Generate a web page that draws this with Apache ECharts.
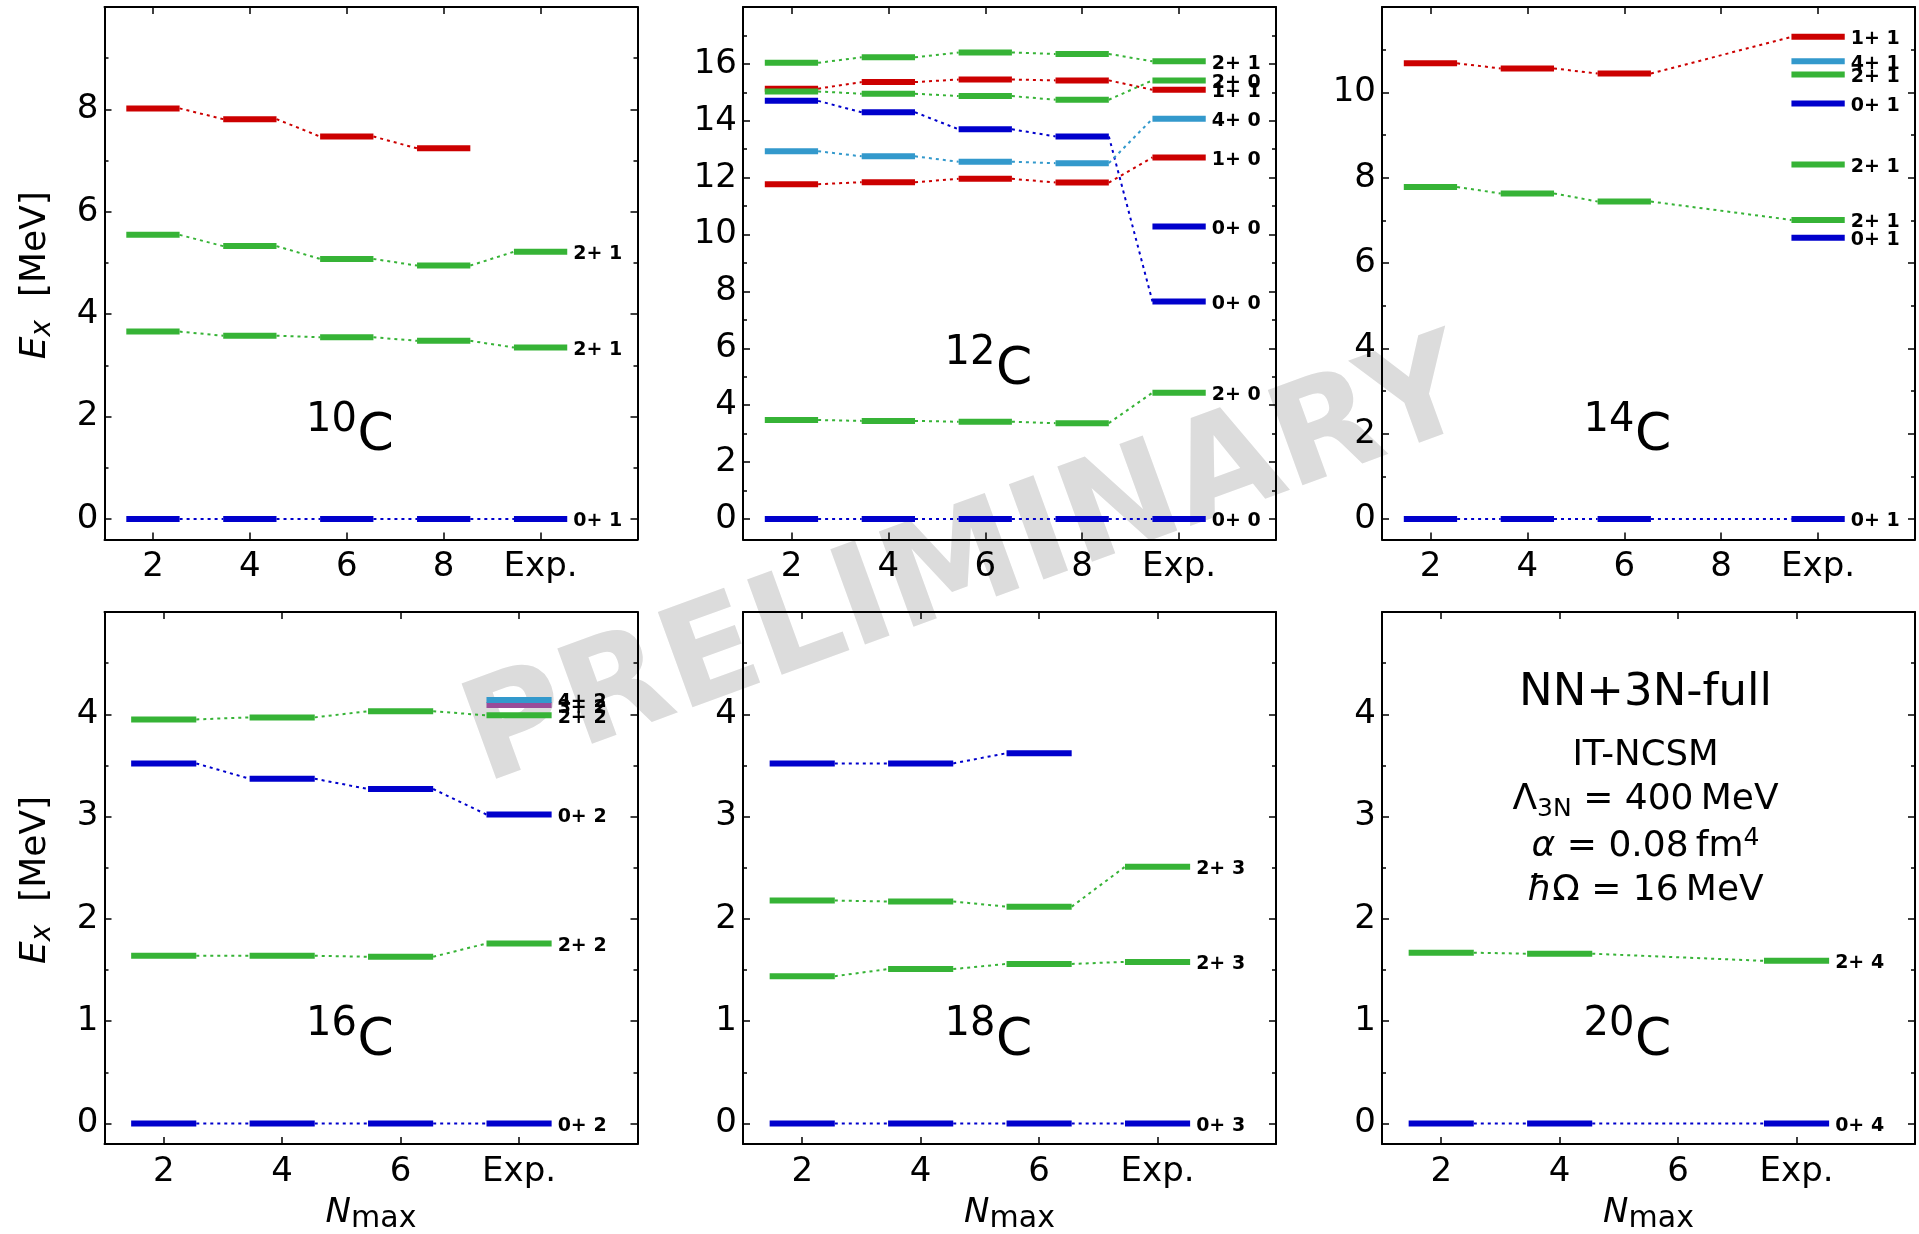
<!DOCTYPE html>
<html><head><meta charset="utf-8">
<script src="https://cdn.jsdelivr.net/npm/echarts@6/dist/echarts.min.js"></script>
<style>html,body{margin:0;padding:0;background:#fff}#c{width:1919px;height:1234px}</style>
</head><body><div id="c"></div>
<script>
// ---------------- data ----------------
// x positions: Nmax values; the last one is the experiment column
const nmaxTop = [2, 4, 6, 8, 10];
const nmaxBot = [2, 4, 6, 8];
const xLabelsTop = ['2', '4', '6', '8', 'Exp.'];
const xLabelsBot = ['2', '4', '6', 'Exp.'];

const yMajor10 = [0, 2, 4, 6, 8];           const yMinor10 = [1, 3, 5, 7, 9];
const yMajor12 = [0, 2, 4, 6, 8, 10, 12, 14, 16]; const yMinor12 = [1, 3, 5, 7, 9, 11, 13, 15, 17];
const yMajor14 = [0, 2, 4, 6, 8, 10];       const yMinor14 = [1, 3, 5, 7, 9, 11];
const yMajorB  = [0, 1, 2, 3, 4];           const yMinorB  = [0.5, 1.5, 2.5, 3.5, 4.5];

// 10C
const c10_0p  = [0, 0, 0, 0, 0];
const c10_2pA = [3.66, 3.58, 3.55, 3.48, 3.35];
const c10_2pB = [5.55, 5.33, 5.08, 4.95, 5.22];
const c10_red = [8.02, 7.81, 7.47, 7.24, null];
const c10_lab = ['0+ 1', '2+ 1', '2+ 1', null];

// 12C
const c12_0p    = [0, 0, 0, 0, 0];
const c12_2p    = [3.48, 3.45, 3.42, 3.37, 4.44];
const c12_hoyle = [14.70, 14.30, 13.70, 13.45, 7.65];
const c12_0pB   = [null, null, null, null, 10.28];
const c12_1p    = [11.77, 11.84, 11.96, 11.83, 12.71];
const c12_4p    = [12.93, 12.75, 12.56, 12.51, 14.07];
const c12_1pT1  = [15.13, 15.36, 15.45, 15.42, 15.09];
const c12_2pB   = [15.03, 14.95, 14.87, 14.74, 15.42];
const c12_2pT1  = [16.04, 16.23, 16.40, 16.35, 16.09];
const c12_lab = ['0+ 0', '2+ 0', '0+ 0', '0+ 0', '1+ 0', '4+ 0', '1+ 1', '2+ 0', '2+ 1'];

// 14C
const c14_0p  = [0, 0, 0, null, 0];
const c14_2p  = [7.78, 7.63, 7.44, null, 7.01];
const c14_1p  = [10.68, 10.56, 10.44, null, 11.30];
const c14_0pB = [null, null, null, null, 6.59];
const c14_2pB = [null, null, null, null, 8.31];
const c14_0pC = [null, null, null, null, 9.74];
const c14_2pC = [null, null, null, null, 10.42];
const c14_4p  = [null, null, null, null, 10.73];
const c14_lab = ['0+ 1', '2+ 1', '1+ 1', '0+ 1', '2+ 1', '0+ 1', '2+ 1', '4+ 1'];

// 16C
const c16_0p  = [0, 0, 0, 0];
const c16_2p  = [1.64, 1.64, 1.63, 1.76];
const c16_0pB = [3.52, 3.37, 3.27, 3.02];
const c16_2pB = [3.95, 3.97, 4.03, 3.99];
const c16_3p  = [null, null, null, 4.09];
const c16_4p  = [null, null, null, 4.14];
const c16_lab = ['0+ 2', '2+ 2', '0+ 2', '2+ 2', '3+ 2', '4+ 2'];

// 18C
const c18_0p  = [0, 0, 0, 0];
const c18_2p  = [1.44, 1.51, 1.56, 1.58];
const c18_2pB = [2.18, 2.17, 2.12, 2.51];
const c18_0pB = [3.52, 3.52, 3.62, null];
const c18_lab = ['0+ 3', '2+ 3', '2+ 3', null];

// 20C
const c20_0p = [0, 0, null, 0];
const c20_2p = [1.67, 1.66, null, 1.59];
const c20_lab = ['0+ 4', '2+ 4'];

// ---------------- styles / layout ----------------
const COL = { blue: '#0000cc', green: '#36b336', red: '#cc0000', lblue: '#3399cc', purple: '#994c99' };
const HALF = 0.55;
const FONT = '"DejaVu Sans"';
const GRIDS = [
  { left: 104.5, top: 7, width: 533, height: 532.5 },
  { left: 743, top: 7, width: 533, height: 532.5 },
  { left: 1382, top: 7, width: 533, height: 532.5 },
  { left: 104.5, top: 612, width: 533, height: 532 },
  { left: 743, top: 612, width: 533, height: 532 },
  { left: 1382, top: 612, width: 533, height: 532 }
];

const panels = [
  { xs: nmaxTop, xl: xLabelsTop, xmax: 12, ymin: -0.4, ymax: 10, yMa: yMajor10, yMi: yMinor10, iso: '10', isoDy: 447.5,
    tracks: [[c10_0p, 'blue'], [c10_2pA, 'green'], [c10_2pB, 'green'], [c10_red, 'red']], labs: c10_lab },
  { xs: nmaxTop, xl: xLabelsTop, xmax: 12, ymin: -0.72, ymax: 18, yMa: yMajor12, yMi: yMinor12, iso: '12', isoDy: 381.4,
    tracks: [[c12_0p, 'blue'], [c12_2p, 'green'], [c12_hoyle, 'blue'], [c12_0pB, 'blue'], [c12_1p, 'red'], [c12_4p, 'lblue'],
             [c12_1pT1, 'red'], [c12_2pB, 'green'], [c12_2pT1, 'green']], labs: c12_lab },
  { xs: nmaxTop, xl: xLabelsTop, xmax: 12, ymin: -0.48, ymax: 12, yMa: yMajor14, yMi: yMinor14, iso: '14', isoDy: 447.5,
    tracks: [[c14_0p, 'blue'], [c14_2p, 'green'], [c14_1p, 'red'], [c14_0pB, 'blue'], [c14_2pB, 'green'], [c14_0pC, 'blue'],
             [c14_2pC, 'green'], [c14_4p, 'lblue']], labs: c14_lab },
  { xs: nmaxBot, xl: xLabelsBot, xmax: 10, ymin: -0.2, ymax: 5, yMa: yMajorB, yMi: yMinorB, iso: '16', isoDy: 447,
    tracks: [[c16_0p, 'blue'], [c16_2p, 'green'], [c16_0pB, 'blue'], [c16_2pB, 'green'], [c16_3p, 'purple'], [c16_4p, 'lblue']], labs: c16_lab },
  { xs: nmaxBot, xl: xLabelsBot, xmax: 10, ymin: -0.2, ymax: 5, yMa: yMajorB, yMi: yMinorB, iso: '18', isoDy: 447,
    tracks: [[c18_0p, 'blue'], [c18_2p, 'green'], [c18_2pB, 'green'], [c18_0pB, 'blue']], labs: c18_lab },
  { xs: nmaxBot, xl: xLabelsBot, xmax: 10, ymin: -0.2, ymax: 5, yMa: yMajorB, yMi: yMinorB, iso: '20', isoDy: 447,
    tracks: [[c20_0p, 'blue'], [c20_2p, 'green']], labs: c20_lab }
];

// ---------------- helpers ----------------
const mctx = document.createElement('canvas').getContext('2d');
function fontOf(p) { return (p.it ? 'italic ' : '') + (p.b ? 'bold ' : '') + p.fs + 'px ' + FONT; }
function mixedText(pieces, ax, by, anchor) {
  let total = 0;
  const widths = pieces.map(p => { mctx.font = fontOf(p); const w = mctx.measureText(p.t).width; total += w; return w; });
  let x = anchor === 'left' ? ax : anchor === 'right' ? ax - total : ax - total / 2;
  return pieces.map((p, i) => {
    const el = { type: 'text', x: x, y: by + (p.dy || 0) - 0.346 * p.fs, silent: true,
      style: { text: p.t, font: fontOf(p), fill: p.fill || '#000', align: 'left', verticalAlign: 'middle' } };
    x += widths[i];
    return el;
  });
}

const option = { animation: false, backgroundColor: '#fff', grid: [], xAxis: [], yAxis: [], series: [], graphic: [] };

panels.forEach((p, gi) => {
  option.grid.push(Object.assign({ containLabel: false, outerBoundsMode: 'none' }, GRIDS[gi]));
  const xBase = { type: 'value', gridIndex: gi, min: 1, max: p.xmax, splitLine: { show: false },
    axisLine: { show: true, onZero: false, lineStyle: { color: '#000', width: 2 } },
    axisTick: { show: true, inside: true, length: 7, customValues: p.xs, lineStyle: { color: '#000', width: 1.5 } } };
  option.xAxis.push(Object.assign({}, xBase, { position: 'bottom',
    axisLabel: { show: true, customValues: p.xs, margin: 11, fontSize: 34, fontFamily: 'DejaVu Sans', color: '#000',
      formatter: v => { const k = p.xs.indexOf(v); return k >= 0 ? p.xl[k] : ''; } } }));
  option.xAxis.push(Object.assign({}, xBase, { position: 'top', axisLabel: { show: false } }));

  const yc = { type: 'value', gridIndex: gi, min: p.ymin, max: p.ymax, splitLine: { show: false } };
  const major = Object.assign({}, yc, { axisLine: { show: true, onZero: false, lineStyle: { color: '#000', width: 2 } },
    axisTick: { show: true, inside: true, length: 7, customValues: p.yMa, lineStyle: { color: '#000', width: 1.5 } } });
  const minor = Object.assign({}, yc, { axisLine: { show: false, onZero: false },
    axisTick: { show: true, inside: true, length: 4, customValues: p.yMi, lineStyle: { color: '#000', width: 1.5 } },
    axisLabel: { show: false } });
  option.yAxis.push(Object.assign({}, major, { position: 'left',
    axisLabel: { show: true, customValues: p.yMa, margin: 6, fontSize: 34, fontFamily: 'DejaVu Sans', color: '#000' } }));
  option.yAxis.push(Object.assign({}, minor, { position: 'left' }));
  option.yAxis.push(Object.assign({}, major, { position: 'right', axisLabel: { show: false } }));
  option.yAxis.push(Object.assign({}, minor, { position: 'right' }));

  // build levels and links from the track arrays
  const levels = [], links = [];
  const lastIdx = p.xs.length - 1;
  p.tracks.forEach((tr, ti) => {
    const vals = tr[0], color = COL[tr[1]];
    let prev = null;
    vals.forEach((y, i) => {
      if (y == null) return;
      const x = p.xs[i];
      levels.push({ x, y, color, label: i === lastIdx ? p.labs[ti] : null });
      if (prev) links.push({ x1: prev.x + HALF, y1: prev.y, x2: x - HALF, y2: y, color });
      prev = { x, y };
    });
  });

  option.series.push({
    type: 'custom', xAxisIndex: 2 * gi, yAxisIndex: 4 * gi, z: 2, silent: true, clip: false,
    data: links.map(l => [l.x1, l.y1, l.x2, l.y2]),
    renderItem: (params, api) => {
      const l = links[params.dataIndex];
      const a = api.coord([api.value(0), api.value(1)]);
      const b = api.coord([api.value(2), api.value(3)]);
      return { type: 'line', shape: { x1: a[0], y1: a[1], x2: b[0], y2: b[1] },
        style: { stroke: l.color, lineWidth: 2, lineDash: [3, 4], fill: null } };
    }
  });
  option.series.push({
    type: 'custom', xAxisIndex: 2 * gi, yAxisIndex: 4 * gi, z: 3, silent: true, clip: false,
    data: levels.map(l => [l.x, l.y]),
    renderItem: (params, api) => {
      const l = levels[params.dataIndex];
      const x = api.value(0), y = api.value(1);
      const a = api.coord([x - HALF, y]);
      const b = api.coord([x + HALF, y]);
      const children = [{ type: 'line', shape: { x1: a[0], y1: a[1], x2: b[0], y2: b[1] },
        style: { stroke: l.color, lineWidth: 6, lineCap: 'butt', fill: null } }];
      if (l.label) {
        children.push({ type: 'text', x: b[0] + 6, y: a[1] + 2.5,
          style: { text: l.label, font: 'bold 19px ' + FONT, fill: '#000', align: 'left', verticalAlign: 'middle' } });
      }
      return { type: 'group', children };
    }
  });

  // isotope label
  const g = GRIDS[gi];
  const cx = g.left + 253, cb = g.top + p.isoDy;
  option.graphic.push(...mixedText([{ t: p.iso, fs: 40 }], cx - 0.5, cb - 20.5, 'right'));
  option.graphic.push(...mixedText([{ t: 'C', fs: 52 }], cx, cb, 'left'));
});

// y-axis titles (rotated)
[0, 3].forEach(gi => {
  const g = GRIDS[gi];
  option.graphic.push({ type: 'group', x: 48, y: g.top + g.height / 2 + 2, rotation: Math.PI / 2, silent: true,
    children: mixedText([{ t: 'E', fs: 36, it: true }, { t: 'x', fs: 28, it: true, dy: 4 }, { t: '  [MeV]', fs: 36 }], 0, 0, 'center') });
});
// x-axis titles
[3, 4, 5].forEach(gi => {
  const g = GRIDS[gi];
  option.graphic.push(...mixedText([{ t: 'N', fs: 34, it: true }, { t: 'max', fs: 30, dy: 5 }], g.left + g.width / 2, 1225, 'center'));
});
// annotation block in the 20C panel
(function () {
  const g = GRIDS[5];
  const cx = g.left + g.width / 2 - 3;
  option.graphic.push(...mixedText([{ t: 'NN+3N-full', fs: 45 }], cx, 709, 'center'));
  option.graphic.push(...mixedText([{ t: 'IT-NCSM', fs: 35.5 }], cx, 768, 'center'));
  option.graphic.push(...mixedText([{ t: '\u039B', fs: 36 }, { t: '3N', fs: 25, dy: 6 }, { t: ' = 400\u2009MeV', fs: 36 }], cx, 812, 'center'));
  option.graphic.push(...mixedText([{ t: '\u03B1', fs: 36, it: true }, { t: ' = 0.08\u2009fm', fs: 36 }, { t: '4', fs: 25, dy: -12 }], cx, 859, 'center'));
  option.graphic.push(...mixedText([{ t: '\u0127', fs: 36, it: true }, { t: '\u03A9 = 16\u2009MeV', fs: 36 }], cx, 903, 'center'));
})();
// watermark
option.graphic.push({ type: 'text', x: 969, y: 568, rotation: 20 * Math.PI / 180, z: -10, silent: true,
  style: { text: 'PRELIMINARY', font: 'bold 139px ' + FONT, fill: '#dcdcdc', align: 'center', verticalAlign: 'middle' } });

const chart = echarts.init(document.getElementById('c'), null, { renderer: 'canvas', width: 1919, height: 1234 });
chart.setOption(option);
</script></body></html>
